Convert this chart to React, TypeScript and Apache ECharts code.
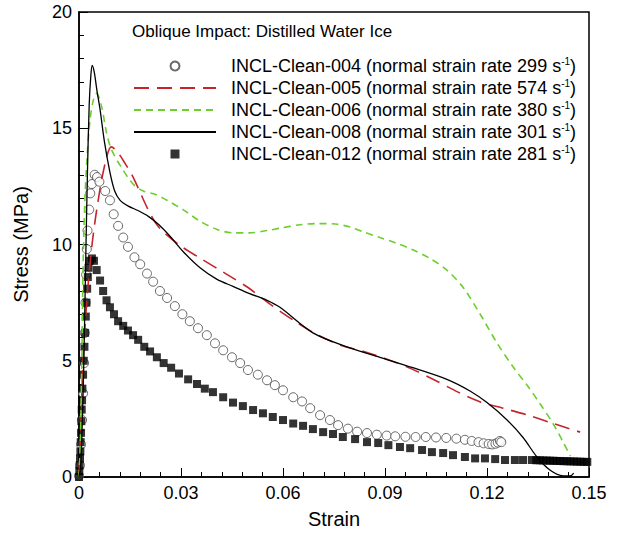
import React, { useEffect, useRef } from "react";
import * as echarts from "echarts";

const FONT = "'Liberation Sans', Arial, Helvetica, sans-serif";

const chartTitle = "Oblique Impact: Distilled Water Ice";
const specimenNames = ["INCL-Clean-004", "INCL-Clean-005", "INCL-Clean-006", "INCL-Clean-008", "INCL-Clean-012"];
const strainRates = [299, 574, 380, 301, 281];
const xTickLabels = ["0", "0.03", "0.06", "0.09", "0.12", "0.15"];
const yTickLabels = ["0", "5", "10", "15", "20"];

// INCL-Clean-004 (open circles)
const clean004: [number, number][] = [
  [0, 0.05], [0.0003, 0.5], [0.0006, 1.4], [0.0009, 2.45], [0.0012, 3.6], [0.0015, 4.9],
  [0.0017, 6.2], [0.0019, 7.5], [0.0021, 8.7], [0.0023, 9.8], [0.0025, 10.6], [0.003, 11.5],
  [0.0033, 12.2], [0.0038, 12.6], [0.0046, 13.0], [0.0053, 12.9], [0.006, 12.7], [0.0077, 12.3],
  [0.0091, 11.9], [0.0102, 11.3], [0.0115, 10.8], [0.013, 10.3], [0.0144, 9.9], [0.0163, 9.45],
  [0.018, 9.15], [0.02, 8.75], [0.0218, 8.4], [0.0238, 8.0], [0.0259, 7.7], [0.0282, 7.35],
  [0.0304, 7.0], [0.0326, 6.7], [0.035, 6.4], [0.0376, 6.1], [0.04, 5.75], [0.0424, 5.45],
  [0.045, 5.15], [0.0474, 4.9], [0.0497, 4.6], [0.0526, 4.4], [0.0553, 4.16], [0.0576, 3.95],
  [0.06, 3.73], [0.063, 3.43], [0.0656, 3.25], [0.068, 2.96], [0.0709, 2.66], [0.0738, 2.45],
  [0.0762, 2.23], [0.0791, 2.08], [0.0818, 1.95], [0.0847, 1.89], [0.0876, 1.82], [0.0905, 1.78],
  [0.093, 1.75], [0.096, 1.73], [0.099, 1.72], [0.102, 1.72], [0.105, 1.7], [0.108, 1.68],
  [0.111, 1.65], [0.1135, 1.6], [0.1155, 1.55], [0.1175, 1.5], [0.119, 1.45], [0.1205, 1.42],
  [0.1215, 1.4], [0.1225, 1.43], [0.1232, 1.48], [0.1238, 1.55], [0.1242, 1.5]
];

// INCL-Clean-005 (red long dashes)
const clean005: [number, number][] = [
  [0, 0], [0.0006, 2.5], [0.0012, 5.0], [0.0023, 7.6], [0.004, 10.2], [0.0062, 12.4],
  [0.0082, 13.8], [0.0095, 14.2], [0.0112, 14.0], [0.0135, 13.5], [0.0159, 12.9], [0.02, 11.6],
  [0.0224, 10.95], [0.0244, 10.6], [0.0297, 9.96], [0.0362, 9.36], [0.043, 8.76], [0.0497, 8.15],
  [0.0565, 7.4], [0.0635, 6.7], [0.0703, 6.1], [0.077, 5.67], [0.0838, 5.4], [0.09, 5.1],
  [0.098, 4.64], [0.1047, 4.16], [0.1115, 3.65], [0.1182, 3.22], [0.1247, 2.96], [0.132, 2.66],
  [0.1391, 2.32], [0.1474, 1.93]
];

// INCL-Clean-006 (green short dashes)
const clean006: [number, number][] = [
  [0, 0], [0.0004, 1.5], [0.0008, 4.7], [0.0012, 9.0], [0.0017, 11.8], [0.0023, 13.6],
  [0.0032, 15.3], [0.0042, 16.2], [0.0052, 16.5], [0.0067, 15.9], [0.0081, 14.8], [0.0095, 14.1],
  [0.0121, 13.4], [0.0159, 12.6], [0.0189, 12.3], [0.0225, 12.15], [0.0259, 11.9], [0.0306, 11.5],
  [0.0356, 11.0], [0.0406, 10.65], [0.0453, 10.5], [0.05, 10.5], [0.0553, 10.6], [0.0591, 10.7],
  [0.065, 10.85], [0.0705, 10.9], [0.0755, 10.88], [0.0797, 10.75], [0.0835, 10.55], [0.0885, 10.3],
  [0.0935, 10.05], [0.0985, 9.75], [0.1032, 9.4], [0.1082, 8.9], [0.113, 8.15], [0.118, 7.0],
  [0.123, 5.75], [0.1276, 4.75], [0.1318, 3.95], [0.1356, 3.15], [0.1394, 2.3], [0.1424, 1.5],
  [0.1445, 0.9]
];

// INCL-Clean-008 (black solid)
const clean008: [number, number][] = [
  [0, 0], [0.0005, 0.5], [0.001, 2.5], [0.0015, 5.5], [0.002, 9.5], [0.0025, 13.2],
  [0.003, 16.0], [0.0035, 17.3], [0.0039, 17.7], [0.0045, 17.4], [0.0053, 16.6], [0.0062, 15.8],
  [0.0075, 14.4], [0.0091, 13.1], [0.0105, 12.3], [0.0121, 11.9], [0.0145, 11.65], [0.0175, 11.45],
  [0.0205, 11.2], [0.0235, 10.85], [0.0265, 10.4], [0.0306, 9.7], [0.0356, 9.0], [0.0406, 8.5],
  [0.0453, 8.2], [0.05, 7.9], [0.0553, 7.6], [0.0591, 7.3], [0.0688, 6.2], [0.0788, 5.6],
  [0.0885, 5.15], [0.0982, 4.7], [0.1082, 4.2], [0.115, 3.7], [0.12, 3.2], [0.1259, 2.45],
  [0.1306, 1.7], [0.1347, 0.86], [0.1385, 0.3], [0.1424, 0.05], [0.1445, 0.05], [0.1455, 0.17]
];

// INCL-Clean-012 (filled squares)
const clean012: [number, number][] = [
  [0, 0], [0.0001, 0.25], [0.0002, 0.5], [0.0003, 0.8], [0.0004, 1.1], [0.0005, 1.5],
  [0.0006, 1.9], [0.0007, 2.4], [0.0008, 2.9], [0.0009, 3.3], [0.001, 3.8], [0.0012, 4.4],
  [0.0014, 5.0], [0.0016, 5.6], [0.0018, 6.2], [0.002, 6.9], [0.0022, 7.5], [0.0024, 8.1],
  [0.0026, 8.6], [0.0028, 9.0], [0.0032, 9.3], [0.0038, 9.4], [0.0044, 9.3], [0.0052, 8.9],
  [0.0062, 8.45], [0.0071, 8.0], [0.0081, 7.6], [0.0091, 7.3], [0.0103, 7.0], [0.0115, 6.7],
  [0.013, 6.5], [0.0144, 6.3], [0.0159, 6.1], [0.0174, 5.9], [0.0192, 5.6], [0.0209, 5.4],
  [0.0229, 5.15], [0.0249, 4.9], [0.0271, 4.7], [0.0294, 4.45], [0.0321, 4.2], [0.0347, 4.0],
  [0.037, 3.8], [0.0394, 3.65], [0.0424, 3.43], [0.0453, 3.2], [0.0482, 3.05], [0.0512, 2.88],
  [0.0541, 2.74], [0.057, 2.58], [0.06, 2.45], [0.063, 2.3], [0.0659, 2.2], [0.0688, 2.06],
  [0.0718, 1.93], [0.0747, 1.85], [0.0776, 1.72], [0.0812, 1.63], [0.0847, 1.5], [0.088, 1.46],
  [0.091, 1.37], [0.0944, 1.29], [0.0974, 1.24], [0.1009, 1.16], [0.1038, 1.07], [0.1071, 1.03],
  [0.11, 0.94], [0.1135, 0.86], [0.1165, 0.8], [0.1194, 0.8], [0.1224, 0.77], [0.1253, 0.73],
  [0.1282, 0.73], [0.1306, 0.73], [0.1332, 0.73], [0.1345, 0.72], [0.1355, 0.72], [0.1365, 0.71],
  [0.1375, 0.71], [0.1385, 0.7], [0.1395, 0.7], [0.1405, 0.69], [0.1415, 0.69], [0.1425, 0.68],
  [0.1435, 0.68], [0.1445, 0.67], [0.1455, 0.67], [0.1465, 0.66], [0.1475, 0.66], [0.1485, 0.65],
  [0.1495, 0.65]
];

function legendLabel(i: number): string {
  return `{g| }{t|${specimenNames[i]} (normal strain rate ${strainRates[i]} s}{sup|-1}{t|)}`;
}

const hiddenSymbol = { color: "transparent", borderColor: "transparent", opacity: 0 };

export default function App() {
  const ref = useRef<HTMLDivElement>(null);

  useEffect(() => {
    if (!ref.current) return;
    const chart = echarts.init(ref.current, null, { renderer: "svg" });
    const nameIndex: Record<string, number> = {};
    specimenNames.forEach((n, i) => (nameIndex[n] = i));

    chart.setOption({
      animation: false,
      backgroundColor: "#fff",
      textStyle: { fontFamily: FONT },
      title: {
        text: chartTitle,
        left: 132,
        top: 23,
        padding: 0,
        textStyle: { fontSize: 17, fontWeight: "normal", color: "#000", fontFamily: FONT },
      },
      legend: {
        orient: "vertical",
        left: 133,
        top: 56,
        padding: 0,
        itemWidth: 82,
        itemHeight: 9,
        itemGap: 3,
        symbolKeepAspect: true,
        data: [
          { name: specimenNames[0] },
          { name: specimenNames[1], itemStyle: hiddenSymbol },
          { name: specimenNames[2], itemStyle: hiddenSymbol },
          { name: specimenNames[3], itemStyle: hiddenSymbol },
          { name: specimenNames[4], icon: "path://M0,0L10,0L10,10L0,10Z" },
        ],
        formatter: (name: string) => legendLabel(nameIndex[name]),
        textStyle: {
          color: "#000",
          fontFamily: FONT,
          fontSize: 18,
          rich: {
            g: { width: 10, fontSize: 18, lineHeight: 20 },
            t: { fontSize: 18, lineHeight: 20, color: "#000", fontFamily: FONT },
            sup: { fontSize: 10, lineHeight: 10, verticalAlign: "top", color: "#000", fontFamily: FONT },
          },
        },
      },
      grid: {
        left: 79,
        right: 30,
        top: 12,
        bottom: 57,
        show: true,
        borderColor: "#000",
        borderWidth: 1.5,
        backgroundColor: "transparent",
      },
      xAxis: {
        type: "value",
        min: 0,
        max: 0.15,
        interval: 0.03,
        name: "Strain",
        nameLocation: "middle",
        nameGap: 32,
        nameTextStyle: { fontSize: 20, color: "#000", fontFamily: FONT },
        axisLine: { show: true, lineStyle: { color: "#000", width: 1.5 } },
        axisTick: { show: true, inside: true, length: 9, lineStyle: { color: "#000", width: 1 } },
        minorTick: { show: true, splitNumber: 5, length: 5, lineStyle: { color: "#000", width: 1 } },
        axisLabel: {
          fontSize: 18,
          color: "#000",
          margin: 7,
          fontFamily: FONT,
          formatter: (v: number) => xTickLabels[Math.round(v / 0.03)] ?? "",
        },
        splitLine: { show: false },
      },
      yAxis: {
        type: "value",
        min: 0,
        max: 20,
        interval: 5,
        name: "Stress (MPa)",
        nameLocation: "middle",
        nameGap: 48,
        nameTextStyle: { fontSize: 20, color: "#000", fontFamily: FONT },
        axisLine: { show: true, lineStyle: { color: "#000", width: 1.5 } },
        axisTick: { show: true, inside: true, length: 9, lineStyle: { color: "#000", width: 1 } },
        minorTick: { show: true, splitNumber: 5, length: 5, lineStyle: { color: "#000", width: 1 } },
        axisLabel: {
          fontSize: 18,
          color: "#000",
          margin: 7,
          fontFamily: FONT,
          formatter: (v: number) => yTickLabels[Math.round(v / 5)] ?? "",
        },
        splitLine: { show: false },
      },
      series: [
        {
          name: specimenNames[0],
          type: "scatter",
          data: clean004,
          symbol: "circle",
          symbolSize: 9,
          itemStyle: { color: "#fff", borderColor: "#444", borderWidth: 1 },
          z: 2,
        },
        {
          name: specimenNames[1],
          type: "line",
          data: clean005,
          symbol: "none",
          showSymbol: false,
          smooth: 0.3,
          lineStyle: { color: "#c4262b", width: 1.6, type: [15, 8] },
          itemStyle: { color: "#c4262b" },
          z: 3,
        },
        {
          name: specimenNames[2],
          type: "line",
          data: clean006,
          symbol: "none",
          showSymbol: false,
          smooth: 0.3,
          lineStyle: { color: "#6fce2f", width: 1.6, type: [7, 5] },
          itemStyle: { color: "#6fce2f" },
          z: 3,
        },
        {
          name: specimenNames[3],
          type: "line",
          data: clean008,
          symbol: "none",
          showSymbol: false,
          smooth: 0.3,
          lineStyle: { color: "#000", width: 1.3, type: "solid" },
          itemStyle: { color: "#000" },
          z: 4,
        },
        {
          name: specimenNames[4],
          type: "scatter",
          data: clean012,
          symbol: "rect",
          symbolSize: 8,
          itemStyle: { color: "#000" },
          z: 2,
        },
      ],
    });

    return () => chart.dispose();
  }, []);

  return (
    <div
      ref={ref}
      style={{ position: "fixed", left: 0, top: 0, width: 619, height: 534, background: "#fff" }}
    />
  );
}
